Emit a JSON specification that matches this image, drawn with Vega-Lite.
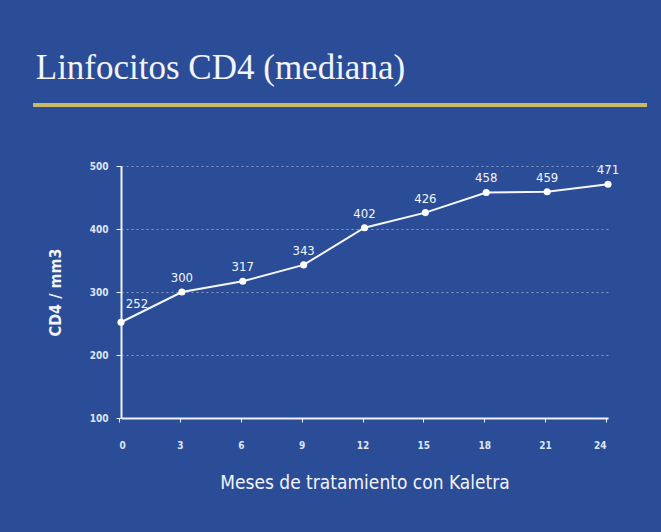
{
  "$schema": "https://vega.github.io/schema/vega-lite/v6.json",
  "autosize": "none",
  "width": 487,
  "height": 252,
  "padding": {"left": 121, "top": 166, "right": 53, "bottom": 114},
  "background": "#2b4c96",
  "title": {
    "text": "Linfocitos CD4 (mediana)",
    "anchor": "start",
    "dx": 4,
    "offset": -11,
    "baseline": "alphabetic",
    "font": "Liberation Serif",
    "fontSize": 35,
    "fontWeight": "normal",
    "color": "#f2f4fa"
  },
  "config": {
    "view": {"stroke": null},
    "axis": {
      "labelFont": "DejaVu Sans Condensed",
      "titleFont": "DejaVu Sans Condensed",
      "labelColor": "#dfe5f5",
      "titleColor": "#f2f4fa",
      "domainColor": "#eef2fb",
      "tickColor": "#eef2fb",
      "domainWidth": 2
    }
  },
  "data": {
    "values": [
      {"mes": 0, "cd4": 252},
      {"mes": 3, "cd4": 300},
      {"mes": 6, "cd4": 317},
      {"mes": 9, "cd4": 343},
      {"mes": 12, "cd4": 402},
      {"mes": 15, "cd4": 426},
      {"mes": 18, "cd4": 458},
      {"mes": 21, "cd4": 459},
      {"mes": 24, "cd4": 471}
    ]
  },
  "layer": [
    {
      "mark": {"type": "rule", "color": "#cbb966", "strokeWidth": 4, "clip": false},
      "encoding": {
        "x": {"datum": -4.3, "type": "quantitative"},
        "x2": {"datum": 25.9},
        "y": {"datum": 597, "type": "quantitative"}
      }
    },
    {
      "mark": {"type": "line", "color": "#f4f6fb", "strokeWidth": 2},
      "encoding": {
        "x": {
          "field": "mes",
          "type": "quantitative",
          "scale": {"domain": [0, 24], "nice": false, "zero": false},
          "axis": {
            "values": [0, 3, 6, 9, 12, 15, 18, 21, 24],
            "title": "Meses  de tratamiento con Kaletra",
            "titleFontSize": 19,
            "titleFontWeight": "normal",
            "titleY": 64,
            "titleBaseline": "middle",
            "labelFontSize": 10,
            "labelFontWeight": "bold",
            "labelPadding": 18,
            "tickSize": 4,
            "tickOffset": -2,
            "grid": false
          }
        },
        "y": {
          "field": "cd4",
          "type": "quantitative",
          "scale": {"domain": [100, 500], "nice": false, "zero": false},
          "axis": {
            "values": [100, 200, 300, 400, 500],
            "title": "CD4   /   mm3",
            "titleFontSize": 16,
            "titleFontWeight": "bold",
            "titleX": -66,
            "titleY": 126,
            "titleAngle": -90,
            "titleAlign": "center",
            "titleBaseline": "middle",
            "labelFontSize": 10,
            "labelFontWeight": "bold",
            "labelPadding": 8,
            "tickSize": 5,
            "grid": true,
            "gridColor": "#ffffff",
            "gridOpacity": 0.45,
            "gridDash": [2, 3]
          }
        }
      }
    },
    {
      "mark": {"type": "point", "filled": true, "color": "#ffffff", "opacity": 1, "size": 50, "shape": "circle"},
      "encoding": {
        "x": {"field": "mes", "type": "quantitative"},
        "y": {"field": "cd4", "type": "quantitative"}
      }
    },
    {
      "transform": [{"filter": "datum.mes > 0"}],
      "mark": {"type": "text", "dy": -14, "color": "#f4f6fb", "font": "DejaVu Sans Condensed", "fontSize": 13},
      "encoding": {
        "x": {"field": "mes", "type": "quantitative"},
        "y": {"field": "cd4", "type": "quantitative"},
        "text": {"field": "cd4", "type": "quantitative"}
      }
    },
    {
      "transform": [{"filter": "datum.mes == 0"}],
      "mark": {"type": "text", "dx": 16, "dy": -18, "color": "#f4f6fb", "font": "DejaVu Sans Condensed", "fontSize": 13},
      "encoding": {
        "x": {"field": "mes", "type": "quantitative"},
        "y": {"field": "cd4", "type": "quantitative"},
        "text": {"field": "cd4", "type": "quantitative"}
      }
    }
  ]
}
